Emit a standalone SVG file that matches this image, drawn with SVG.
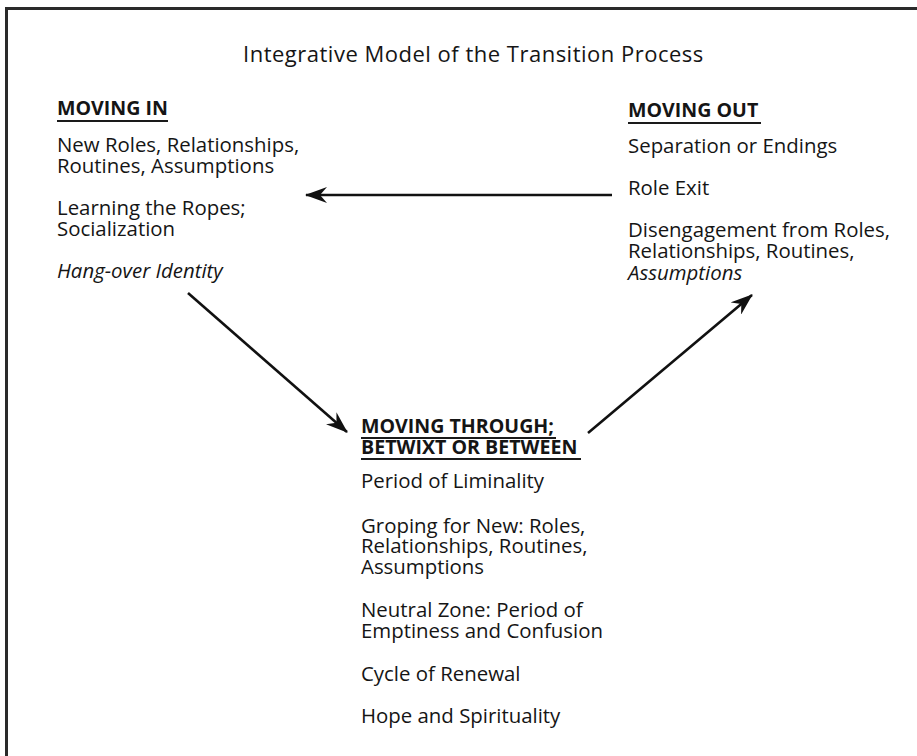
<svg xmlns="http://www.w3.org/2000/svg" width="917" height="756" viewBox="0 0 917 756">
<style>
text{font-family:"Open Sans","Noto Sans","Liberation Sans",sans-serif;fill:#151515;font-size:20.4px;font-weight:500}
.h{font-weight:bold;font-size:19.6px}
.t{font-size:22px;letter-spacing:0.5px}
.i{font-style:italic}
.u{stroke:#1a1a1a;stroke-width:2}
.c{stroke:#111;stroke-width:2.6;fill:none}
.b{stroke:#2a2a2a;stroke-width:3;fill:none}
</style>
<defs>
<marker id="ah" viewBox="0 0 22 16" refX="21" refY="8" markerWidth="22" markerHeight="16" markerUnits="userSpaceOnUse" orient="auto">
<path d="M0,0 L22,8 L0,16 L7,8 Z" fill="#111"/>
</marker>
</defs>
<rect width="917" height="756" fill="#fff"/>
<path class="b" d="M6.5,756 V8.5 H917"/>
<g id="title"><text class="t" x="243" y="62">Integrative Model of the Transition Process</text></g>
<g id="moving-in">
<text class="h" x="57" y="115">MOVING IN</text>
<line class="u" x1="57" y1="121" x2="168" y2="121"/>
<text x="57" y="152">New Roles, Relationships,<tspan x="57" dy="21">Routines, Assumptions</tspan></text>
<text x="57" y="215">Learning the Ropes;<tspan x="57" dy="21">Socialization</tspan></text>
<text class="i" x="57" y="278">Hang-over Identity</text>
</g>
<g id="moving-out">
<text class="h" x="628" y="117">MOVING OUT</text>
<line class="u" x1="628" y1="123" x2="761" y2="123"/>
<text x="628" y="153">Separation or Endings</text>
<text x="628" y="195">Role Exit</text>
<text x="628" y="237">Disengagement from Roles,<tspan x="628" dy="21">Relationships, Routines,</tspan><tspan class="i" x="628" dy="22">Assumptions</tspan></text>
</g>
<g id="moving-through">
<text class="h" x="361" y="433">MOVING THROUGH;<tspan x="361" dy="21">BETWIXT OR BETWEEN</tspan></text>
<line class="u" x1="361" y1="438" x2="556" y2="438"/>
<line class="u" x1="361" y1="459" x2="581" y2="459"/>
<text x="361" y="488">Period of Liminality</text>
<text x="361" y="533">Groping for New: Roles,<tspan x="361" dy="20">Relationships, Routines,</tspan><tspan x="361" dy="21">Assumptions</tspan></text>
<text x="361" y="617">Neutral Zone: Period of<tspan x="361" dy="21">Emptiness and Confusion</tspan></text>
<text x="361" y="681">Cycle of Renewal</text>
<text x="361" y="723">Hope and Spirituality</text>
</g>
<g id="connectors">
<line class="c" x1="612" y1="195" x2="306" y2="195" marker-end="url(#ah)"/>
<line class="c" x1="188" y1="293" x2="347" y2="432" marker-end="url(#ah)"/>
<line class="c" x1="588" y1="433" x2="752" y2="295" marker-end="url(#ah)"/>
</g>
</svg>
